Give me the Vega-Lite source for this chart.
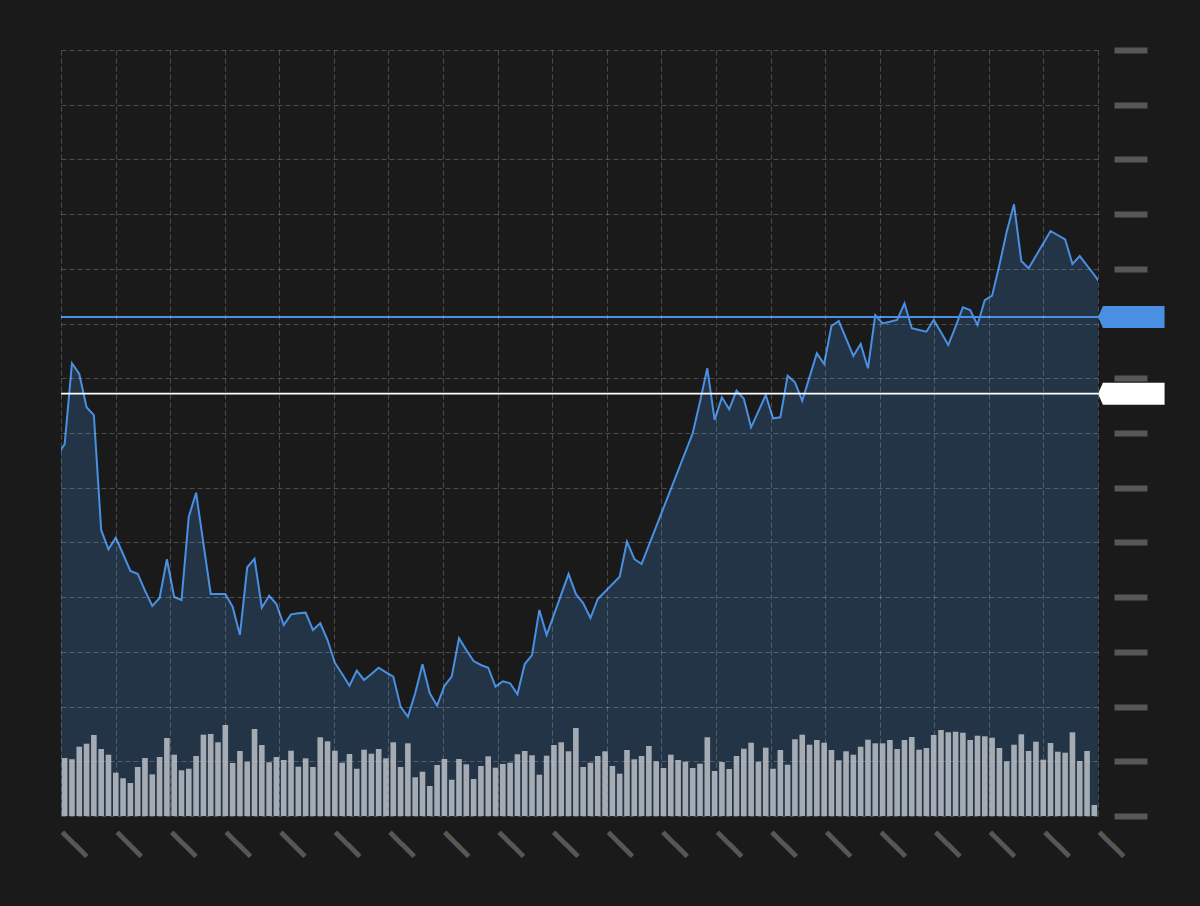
{
  "$schema": "https://vega.github.io/schema/vega-lite/v6.json",
  "width": 1037,
  "height": 766,
  "autosize": {"type": "none"},
  "padding": {"left": 61, "top": 50, "right": 102, "bottom": 90},
  "background": "#1a1a1a",
  "config": {"view": {"stroke": null, "fill": "#1a1a1a"}},
  "datasets": {
    "price": [{"i":-1,"price":112.99},{"i":0,"price":113.97},{"i":1,"price":121.37},{"i":2,"price":120.39},{"i":3,"price":117.35},{"i":4,"price":116.64},{"i":5,"price":106.14},{"i":6,"price":104.37},{"i":7,"price":105.43},{"i":8,"price":103.94},{"i":9,"price":102.39},{"i":10,"price":102.14},{"i":11,"price":100.59},{"i":12,"price":99.19},{"i":13,"price":99.92},{"i":14,"price":103.46},{"i":15,"price":100.01},{"i":16,"price":99.74},{"i":17,"price":107.35},{"i":18,"price":109.54},{"i":20,"price":100.29},{"i":21,"price":100.29},{"i":22,"price":100.29},{"i":23,"price":99.13},{"i":24,"price":96.54},{"i":25,"price":102.73},{"i":26,"price":103.51},{"i":27,"price":99.04},{"i":28,"price":100.13},{"i":29,"price":99.37},{"i":30,"price":97.45},{"i":31,"price":98.43},{"i":32,"price":98.52},{"i":33,"price":98.58},{"i":34,"price":97.0},{"i":35,"price":97.61},{"i":36,"price":96.08},{"i":37,"price":94.01},{"i":38,"price":92.98},{"i":39,"price":91.91},{"i":40,"price":93.28},{"i":41,"price":92.43},{"i":42,"price":92.98},{"i":43,"price":93.55},{"i":44,"price":93.13},{"i":45,"price":92.73},{"i":46,"price":89.99},{"i":47,"price":89.07},{"i":48,"price":91.21},{"i":49,"price":93.86},{"i":50,"price":91.21},{"i":51,"price":90.08},{"i":52,"price":91.88},{"i":53,"price":92.73},{"i":54,"price":96.24},{"i":55,"price":95.17},{"i":56,"price":94.16},{"i":57,"price":93.8},{"i":58,"price":93.55},{"i":59,"price":91.82},{"i":60,"price":92.31},{"i":61,"price":92.13},{"i":62,"price":91.12},{"i":63,"price":93.89},{"i":64,"price":94.71},{"i":65,"price":98.83},{"i":66,"price":96.54},{"i":69,"price":102.11},{"i":70,"price":100.29},{"i":71,"price":99.46},{"i":72,"price":98.09},{"i":73,"price":99.83},{"i":76,"price":101.87},{"i":77,"price":105.07},{"i":78,"price":103.49},{"i":79,"price":103.03},{"i":86,"price":114.97},{"i":87,"price":117.86},{"i":88,"price":120.91},{"i":89,"price":116.19},{"i":90,"price":118.26},{"i":91,"price":117.17},{"i":92,"price":118.87},{"i":93,"price":118.13},{"i":94,"price":115.52},{"i":96,"price":118.47},{"i":97,"price":116.34},{"i":98,"price":116.43},{"i":99,"price":120.24},{"i":100,"price":119.63},{"i":101,"price":117.95},{"i":103,"price":122.28},{"i":104,"price":121.31},{"i":105,"price":124.78},{"i":106,"price":125.24},{"i":108,"price":122.04},{"i":109,"price":123.13},{"i":110,"price":120.91},{"i":111,"price":125.78},{"i":112,"price":125.02},{"i":113,"price":125.17},{"i":114,"price":125.33},{"i":115,"price":126.85},{"i":116,"price":124.57},{"i":117,"price":124.41},{"i":118,"price":124.26},{"i":119,"price":125.33},{"i":120,"price":124.2},{"i":121,"price":123.04},{"i":122,"price":124.71},{"i":123,"price":126.49},{"i":124,"price":126.24},{"i":125,"price":124.87},{"i":126,"price":127.15},{"i":127,"price":127.55},{"i":128,"price":130.35},{"i":129,"price":133.4},{"i":130,"price":135.9},{"i":131,"price":130.72},{"i":132,"price":130.05},{"i":135,"price":133.46},{"i":137,"price":132.7},{"i":138,"price":130.44},{"i":139,"price":131.17},{"i":141,"price":129.44},{"i":142,"price":128.53}],
    "volume": [{"i":0,"v":58},{"i":1,"v":56.7},{"i":2,"v":69.3},{"i":3,"v":72.3},{"i":4,"v":81},{"i":5,"v":67},{"i":6,"v":61.3},{"i":7,"v":43.3},{"i":8,"v":37.7},{"i":9,"v":33},{"i":10,"v":49},{"i":11,"v":58},{"i":12,"v":41.7},{"i":13,"v":59},{"i":14,"v":78},{"i":15,"v":61.3},{"i":16,"v":45.7},{"i":17,"v":47.3},{"i":18,"v":60},{"i":19,"v":81.3},{"i":20,"v":82},{"i":21,"v":73.7},{"i":22,"v":91},{"i":23,"v":53},{"i":24,"v":65},{"i":25,"v":54.3},{"i":26,"v":87},{"i":27,"v":71},{"i":28,"v":53.7},{"i":29,"v":59},{"i":30,"v":56},{"i":31,"v":65.3},{"i":32,"v":49.3},{"i":33,"v":57.7},{"i":34,"v":49},{"i":35,"v":78.7},{"i":36,"v":74.7},{"i":37,"v":65.3},{"i":38,"v":53.3},{"i":39,"v":62},{"i":40,"v":47.3},{"i":41,"v":66.3},{"i":42,"v":62.3},{"i":43,"v":67},{"i":44,"v":57.7},{"i":45,"v":73.7},{"i":46,"v":49},{"i":47,"v":72.7},{"i":48,"v":38.7},{"i":49,"v":44.3},{"i":50,"v":30},{"i":51,"v":51},{"i":52,"v":57},{"i":53,"v":36.3},{"i":54,"v":57},{"i":55,"v":51.7},{"i":56,"v":37},{"i":57,"v":50},{"i":58,"v":59.7},{"i":59,"v":48.3},{"i":60,"v":52},{"i":61,"v":53.3},{"i":62,"v":61.7},{"i":63,"v":65},{"i":64,"v":60.7},{"i":65,"v":41.3},{"i":66,"v":60.3},{"i":67,"v":71},{"i":68,"v":73.7},{"i":69,"v":64.7},{"i":70,"v":88},{"i":71,"v":49},{"i":72,"v":53.3},{"i":73,"v":60},{"i":74,"v":64.7},{"i":75,"v":50},{"i":76,"v":42.3},{"i":77,"v":66},{"i":78,"v":56.7},{"i":79,"v":60},{"i":80,"v":70},{"i":81,"v":54.7},{"i":82,"v":48},{"i":83,"v":61.3},{"i":84,"v":56},{"i":85,"v":54.3},{"i":86,"v":48},{"i":87,"v":52.3},{"i":88,"v":78.7},{"i":89,"v":45},{"i":90,"v":54},{"i":91,"v":47},{"i":92,"v":60},{"i":93,"v":67.3},{"i":94,"v":73.3},{"i":95,"v":54.3},{"i":96,"v":68.3},{"i":97,"v":47.3},{"i":98,"v":66},{"i":99,"v":51.3},{"i":100,"v":76.7},{"i":101,"v":81.3},{"i":102,"v":71.3},{"i":103,"v":76},{"i":104,"v":73.3},{"i":105,"v":66},{"i":106,"v":55.7},{"i":107,"v":64.7},{"i":108,"v":61.3},{"i":109,"v":69.3},{"i":110,"v":76.3},{"i":111,"v":72.7},{"i":112,"v":72.7},{"i":113,"v":76},{"i":114,"v":67},{"i":115,"v":76},{"i":116,"v":79},{"i":117,"v":66.3},{"i":118,"v":68},{"i":119,"v":81},{"i":120,"v":86},{"i":121,"v":83.7},{"i":122,"v":84.3},{"i":123,"v":83.3},{"i":124,"v":76},{"i":125,"v":80.3},{"i":126,"v":79.7},{"i":127,"v":78.3},{"i":128,"v":68},{"i":129,"v":54.7},{"i":130,"v":71.3},{"i":131,"v":81.7},{"i":132,"v":65},{"i":133,"v":74.3},{"i":134,"v":56.3},{"i":135,"v":73},{"i":136,"v":64.3},{"i":137,"v":63.3},{"i":138,"v":83.7},{"i":139,"v":55},{"i":140,"v":65},{"i":141,"v":11}],
    "levels": [{"level":"upper","value":125.6},{"level":"lower","value":118.59}]
  },
  "layer": [
    {
      "data": {"name": "price"},
      "mark": {"type": "area", "fill": "#243447", "clip": true},
      "encoding": {
        "x": {"field": "i", "type": "quantitative", "scale": {"domain": [-0.5, 141.5], "nice": false, "zero": false, "padding": 0},
          "axis": {"title": null, "values": [-0.5,6.9737,14.4474,21.9211,29.3947,36.8684,44.3421,51.8158,59.2895,66.7632,74.2368,81.7105,89.1842,96.6579,104.1316,111.6053,119.0789,126.5526,134.0263,141.5],
            "grid": true, "gridColor": "#d0d0d0", "gridOpacity": 0.28, "gridDash": [5,3], "gridWidth": 1,
            "ticks": false, "domain": false, "labelExpr": "'━━'",
            "labelAngle": 45, "labelAlign": "left", "labelBaseline": "middle", "labelColor": "#575757",
            "labelFont": "DejaVu Sans", "labelFontSize": 28, "labelPadding": 17,
            "labelOverlap": false, "labelFlush": false, "labelBound": false, "zindex": 1}},
        "y": {"field": "price", "type": "quantitative", "scale": {"domain": [80, 150], "nice": false, "zero": false},
          "axis": {"orient": "right", "title": null, "values": [80,85,90,95,100,105,110,115,120,125,130,135,140,145,150],
            "grid": false, "labels": false, "domain": false, "ticks": true, "offset": 16, "tickSize": 33, "tickWidth": 6,
            "tickColor": "#575757", "tickCap": "butt", "zindex": 0}}
      }
    },
    {
      "data": {"name": "volume"},
      "mark": {"type": "bar", "width": 5.6, "color": "#a5abb3"},
      "encoding": {
        "x": {"field": "i", "type": "quantitative"},
        "y": {"field": "v", "type": "quantitative", "scale": {"domain": [0, 766], "nice": false}, "axis": null}
      }
    },
    {
      "data": {"name": "price"},
      "mark": {"type": "line", "stroke": "#4a90e2", "strokeWidth": 2, "clip": true},
      "encoding": {
        "x": {"field": "i", "type": "quantitative"},
        "y": {"field": "price", "type": "quantitative", "scale": {"domain": [80, 150], "nice": false, "zero": false},
          "axis": {"orient": "left", "title": null, "values": [80,85,90,95,100,105,110,115,120,125,130,135,140,145,150],
            "grid": true, "gridColor": "#d0d0d0", "gridOpacity": 0.28, "gridDash": [5,3], "gridWidth": 1,
            "labels": false, "ticks": false, "domain": false, "zindex": 1}}
      }
    },
    {
      "data": {"name": "levels"},
      "mark": {"type": "rule", "strokeWidth": 1.8},
      "encoding": {
        "y": {"field": "value", "type": "quantitative", "scale": {"domain": [80, 150], "nice": false, "zero": false}, "axis": null},
        "color": {"field": "level", "type": "nominal", "scale": {"domain": ["upper", "lower"], "range": ["#4a90e2", "#ffffff"]}, "legend": null}
      }
    },
    {
      "data": {"name": "levels"},
      "mark": {"type": "point", "shape": "M0,0L0.45,-1L6.05,-1L6.05,1L0.45,1Z", "size": 484, "filled": true, "opacity": 1, "strokeWidth": 0},
      "encoding": {
        "x": {"datum": 141.5},
        "y": {"field": "value", "type": "quantitative", "scale": {"domain": [80, 150], "nice": false, "zero": false}, "axis": null},
        "color": {"field": "level", "type": "nominal", "legend": null}
      }
    }
  ],
  "resolve": {"scale": {"y": "independent"}, "axis": {"y": "independent"}}
}
